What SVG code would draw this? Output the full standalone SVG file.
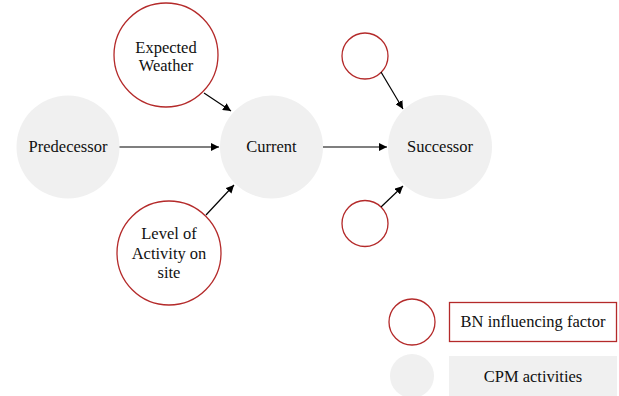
<svg xmlns="http://www.w3.org/2000/svg" width="619" height="396" viewBox="0 0 619 396">
  <defs>
    <marker id="arrow" viewBox="0 0 10 10" refX="10" refY="5" markerWidth="8" markerHeight="8" markerUnits="userSpaceOnUse" orient="auto">
      <path d="M0,0 L10,5 L0,10 z" fill="#000"/>
    </marker>
    <style>
      .factor { fill: #fff; stroke: #b42a2a; stroke-width: 1.3; }
      .activity { fill: #f0f0f0; stroke: none; }
      .edge { stroke: #000; stroke-width: 1.2; fill: none; marker-end: url(#arrow); }
      .label { font-family: 'Liberation Serif', 'DejaVu Serif', serif; font-size: 16.5px; fill: #111; text-anchor: middle; }
    </style>
  </defs>
  <rect width="619" height="396" fill="#fff"/>

  <g id="predecessor">
    <circle class="activity" cx="68" cy="147" r="51.5"/>
    <text class="label" x="68" y="152">Predecessor</text>
  </g>
  <g id="current">
    <circle class="activity" cx="271.5" cy="147" r="51.5"/>
    <text class="label" x="271.5" y="152">Current</text>
  </g>
  <g id="successor">
    <circle class="activity" cx="440" cy="147" r="52"/>
    <text class="label" x="440" y="152">Successor</text>
  </g>
  <g id="expected-weather">
    <circle class="factor" cx="166" cy="55" r="52"/>
    <text class="label" x="166" y="52.5">Expected</text>
    <text class="label" x="166" y="71">Weather</text>
  </g>
  <g id="level-of-activity">
    <circle class="factor" cx="169" cy="253" r="52"/>
    <text class="label" x="169" y="239">Level of</text>
    <text class="label" x="169" y="259">Activity on</text>
    <text class="label" x="169" y="278">site</text>
  </g>
  <g id="factor-top">
    <circle class="factor" cx="365" cy="56" r="23"/>
  </g>
  <g id="factor-bottom">
    <circle class="factor" cx="365" cy="223.5" r="23"/>
  </g>

  <g id="connectors">
    <line class="edge" x1="119.5" y1="147" x2="219" y2="147"/>
    <line class="edge" x1="323" y1="147" x2="387" y2="147"/>
    <line class="edge" x1="204" y1="93" x2="231" y2="111"/>
    <line class="edge" x1="206" y1="215" x2="234" y2="185"/>
    <line class="edge" x1="381" y1="72" x2="403" y2="109"/>
    <line class="edge" x1="381" y1="207" x2="403" y2="186"/>
  </g>

  <g id="legend">
    <circle class="factor" cx="412" cy="322" r="23"/>
    <rect x="449.5" y="302.5" width="167" height="39" fill="#fff" stroke="#b42a2a" stroke-width="1.3"/>
    <text class="label" x="533" y="327">BN influencing factor</text>
    <circle class="activity" cx="412" cy="376" r="22"/>
    <rect x="449" y="356" width="168" height="40" fill="#f0f0f0"/>
    <text class="label" x="533" y="382">CPM activities</text>
  </g>
</svg>
